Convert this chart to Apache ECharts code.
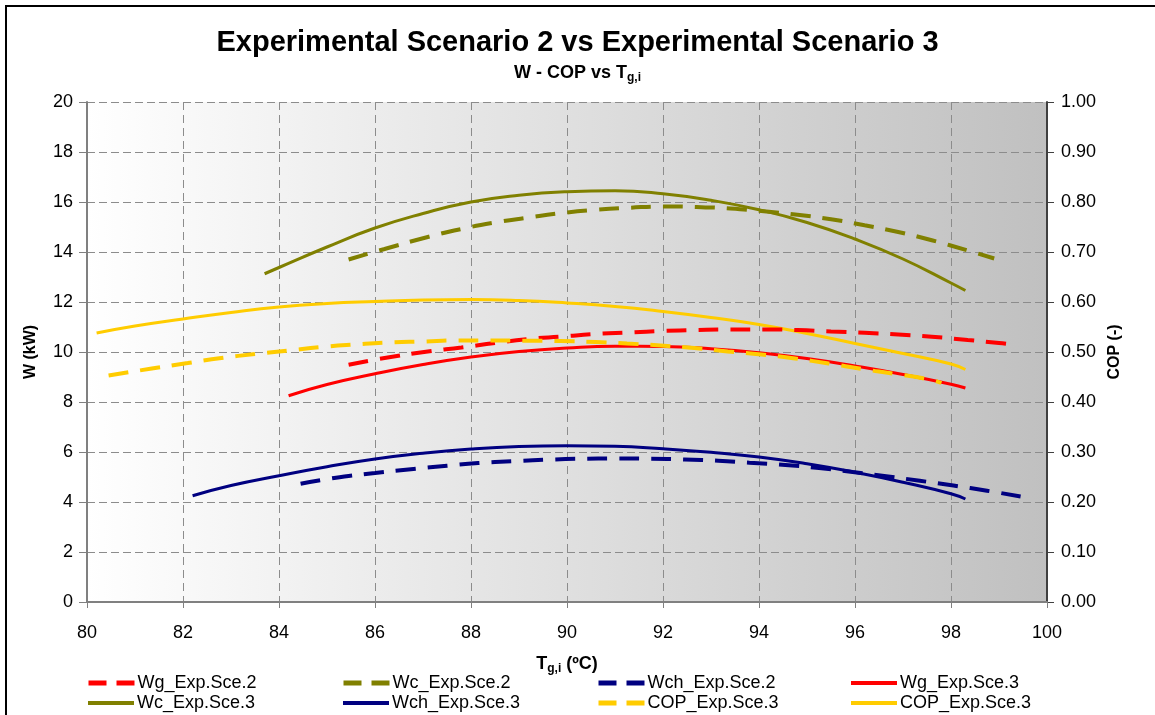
<!DOCTYPE html>
<html><head><meta charset="utf-8">
<script src="https://cdn.jsdelivr.net/npm/echarts@6/dist/echarts.min.js"></script>
<style>html,body{margin:0;padding:0;background:#fff}#c{width:1155px;height:715px}</style>
</head><body><div id="c"></div>
<script>
// ---- data (x = T_g,i in ºC, W in kW, COP in -) ----
const wgSce2X = [85.45, 86.2, 87.1, 87.8, 88.5, 89.2, 89.9, 90.6, 91.3, 92.0, 92.7, 93.4, 94.1, 94.8, 95.5, 96.2, 96.9, 97.6, 98.35, 99.0, 99.3];
const wgSce2Y = [9.49, 9.76, 10.02, 10.18, 10.36, 10.52, 10.62, 10.72, 10.78, 10.84, 10.88, 10.9, 10.9, 10.88, 10.82, 10.77, 10.7, 10.61, 10.48, 10.36, 10.29];

const wcSce2X = [85.45, 86.2, 87.1, 87.8, 88.5, 89.2, 89.85, 90.6, 91.3, 92.0, 92.7, 93.4, 94.1, 94.8, 95.5, 96.2, 96.9, 97.6, 98.35, 98.9];
const wcSce2Y = [13.70, 14.12, 14.60, 14.92, 15.18, 15.38, 15.55, 15.69, 15.77, 15.82, 15.80, 15.74, 15.63, 15.49, 15.31, 15.07, 14.80, 14.47, 14.06, 13.74];

const wchSce2X = [84.45, 85.15, 86.0, 86.8, 87.5, 88.15, 88.85, 89.55, 90.3, 91.0, 91.75, 92.45, 93.15, 93.8, 94.55, 95.25, 95.95, 96.65, 97.35, 98.05, 98.75, 99.45];
const wchSce2Y = [4.73, 4.96, 5.16, 5.32, 5.45, 5.56, 5.63, 5.69, 5.73, 5.74, 5.73, 5.70, 5.65, 5.57, 5.48, 5.36, 5.20, 5.03, 4.85, 4.66, 4.45, 4.22];

const wgSce3X = [84.2, 85, 86, 87, 88, 89, 90, 91, 92, 93, 94, 95, 96, 97, 98, 98.3];
const wgSce3Y = [8.25, 8.70, 9.13, 9.50, 9.80, 10.02, 10.16, 10.23, 10.22, 10.13, 9.97, 9.74, 9.44, 9.10, 8.71, 8.56];

const wcSce3X = [83.7, 84, 85, 86, 87, 88, 89, 90, 91, 92, 93, 94, 95, 96, 97, 98, 98.3];
const wcSce3Y = [13.13, 13.38, 14.20, 14.96, 15.54, 16.00, 16.27, 16.41, 16.45, 16.33, 16.07, 15.69, 15.18, 14.52, 13.72, 12.76, 12.46];

const wchSce3X = [82.2, 83, 84, 85, 86, 87, 88, 89, 90, 91, 92, 93, 94, 95, 96, 97, 98, 98.3];
const wchSce3Y = [4.25, 4.66, 5.05, 5.41, 5.72, 5.95, 6.12, 6.22, 6.25, 6.23, 6.13, 5.99, 5.80, 5.53, 5.19, 4.79, 4.33, 4.12];

const copDashX = [80.45, 81.35, 82.1, 82.8, 83.5, 84.2, 84.9, 85.6, 86.3, 87.0, 87.7, 88.4, 89.1, 89.85, 90.6, 91.25, 91.95, 92.65, 93.35, 94.05, 94.75, 95.45, 96.15, 96.85, 97.55, 97.8];
const copDashY = [0.453, 0.467, 0.478, 0.488, 0.496, 0.503, 0.510, 0.515, 0.519, 0.521, 0.523, 0.523, 0.5225, 0.522, 0.520, 0.517, 0.513, 0.508, 0.501, 0.495, 0.487, 0.477, 0.466, 0.456, 0.445, 0.438];

const copSolidX = [80.2, 81, 82, 83, 84, 85, 86, 87, 88, 89, 90, 91, 92, 93, 94, 95, 96, 97, 98, 98.3];
const copSolidY = [0.538, 0.552, 0.566, 0.579, 0.590, 0.597, 0.601, 0.604, 0.605, 0.603, 0.598, 0.591, 0.581, 0.569, 0.555, 0.537, 0.517, 0.497, 0.476, 0.465];

const xTickRange = [80, 100, 2];
const wTickRange = [0, 20, 2];
const copTickRange = [0, 1, 0.1];

const legendNames = ['Wg_Exp.Sce.2', 'Wc_Exp.Sce.2', 'Wch_Exp.Sce.2', 'Wg_Exp.Sce.3',
                     'Wc_Exp.Sce.3', 'Wch_Exp.Sce.3', 'COP_Exp.Sce.3', 'COP_Exp.Sce.3'];

// ---- build ----
const zip = (xs, ys) => xs.map((x, i) => [x, ys[i]]);
const FONT = 'Liberation Sans, Arial, sans-serif';
const RED = '#FF0000', OLIVE = '#808000', NAVY = '#000080', GOLD = '#FFCC00';
const DASH = [20, 12];

const defs = [
  { key: 'Wg_Exp.Sce.2', data: zip(wgSce2X, wgSce2Y), color: RED, dash: true, axis: 0 },
  { key: 'Wc_Exp.Sce.2', data: zip(wcSce2X, wcSce2Y), color: OLIVE, dash: true, axis: 0 },
  { key: 'Wch_Exp.Sce.2', data: zip(wchSce2X, wchSce2Y), color: NAVY, dash: true, axis: 0 },
  { key: 'Wg_Exp.Sce.3', data: zip(wgSce3X, wgSce3Y), color: RED, dash: false, axis: 0 },
  { key: 'Wc_Exp.Sce.3', data: zip(wcSce3X, wcSce3Y), color: OLIVE, dash: false, axis: 0 },
  { key: 'Wch_Exp.Sce.3', data: zip(wchSce3X, wchSce3Y), color: NAVY, dash: false, axis: 0 },
  { key: 'COP_Exp.Sce.3#dash', data: zip(copDashX, copDashY), color: GOLD, dash: true, axis: 1 },
  { key: 'COP_Exp.Sce.3#solid', data: zip(copSolidX, copSolidY), color: GOLD, dash: false, axis: 1 }
];

const series = defs.map(d => ({
  name: d.key, type: 'line', yAxisIndex: d.axis, data: d.data, smooth: true,
  symbol: 'none', showSymbol: false, z: d.dash ? 3 : 2,
  color: d.color,
  lineStyle: { color: d.color, width: d.dash ? 4 : 3, type: d.dash ? DASH : 'solid' }
}));

const colX = [86, 341, 596, 849];
const rowY = [674, 694];
const legends = defs.map((d, i) => ({
  data: [d.key], left: colX[i % 4], top: rowY[Math.floor(i / 4)],
  itemWidth: 46, itemHeight: 14, itemGap: 0, padding: 0, selectedMode: false,
  formatter: () => legendNames[i],
  itemStyle: { opacity: 0, borderWidth: 0 },
  lineStyle: { width: d.dash ? 5 : 4, type: d.dash ? [18, 10] : 'solid', color: d.color },
  textStyle: { fontFamily: FONT, fontSize: 18, color: '#000', padding: [0, 0, 0, -2] }
}));

const chart = echarts.init(document.getElementById('c'), null, { renderer: 'canvas' });
chart.setOption({
  animation: false,
  backgroundColor: '#fff',
  title: [
    { text: 'Experimental Scenario 2 vs Experimental Scenario 3', left: 'center', top: 23,
      textStyle: { fontFamily: FONT, fontSize: 29, fontWeight: 'bold', color: '#000' } },
    { text: '{a|W - COP vs T}{s|g,i}', left: 'center', top: 58,
      textStyle: { rich: {
        a: { fontFamily: FONT, fontSize: 18, fontWeight: 'bold', color: '#000' },
        s: { fontFamily: FONT, fontSize: 12, fontWeight: 'bold', color: '#000', padding: [9, 0, 0, 0] } } } }
  ],
  legend: legends,
  graphic: [{ type: 'rect', shape: { x: 6, y: 6, width: 1170, height: 730 }, silent: true,
    style: { fill: 'none', stroke: '#000', lineWidth: 2 }, z: 100 }],
  grid: { left: 87, right: 108, top: 102, bottom: 113, show: true, borderWidth: 0,
    backgroundColor: new echarts.graphic.LinearGradient(0, 0, 1, 0, [
      { offset: 0, color: '#ffffff' }, { offset: 1, color: '#c0c0c0' }]) },
  xAxis: {
    type: 'value', min: xTickRange[0], max: xTickRange[1], interval: xTickRange[2],
    name: '{b|T}{s|g,i}{b| (ºC)}', nameLocation: 'middle', nameGap: 52,
    nameTextStyle: { rich: {
      b: { fontFamily: FONT, fontSize: 18, fontWeight: 'bold', color: '#000' },
      s: { fontFamily: FONT, fontSize: 12, fontWeight: 'bold', color: '#000', padding: [9, 0, 0, 0] } } },
    axisLine: { show: true, onZero: false, lineStyle: { color: '#808080', width: 2 } },
    axisTick: { show: true, inside: false, length: 6, lineStyle: { color: '#808080' } },
    axisLabel: { fontFamily: FONT, fontSize: 18, color: '#000', margin: 22 },
    splitLine: { show: true, lineStyle: { color: '#8c8c8c', type: [8, 5], width: 1 } }
  },
  yAxis: [{
    type: 'value', position: 'left', min: wTickRange[0], max: wTickRange[1], interval: wTickRange[2],
    name: 'W (kW)', nameLocation: 'middle', nameGap: 48, nameRotate: 90,
    nameTextStyle: { fontFamily: FONT, fontSize: 16, fontWeight: 'bold', color: '#000' },
    axisLine: { show: true, lineStyle: { color: '#808080', width: 2 } },
    axisTick: { show: true, length: 8, lineStyle: { color: '#808080' } },
    axisLabel: { fontFamily: FONT, fontSize: 18, color: '#000', margin: 14 },
    splitLine: { show: true, lineStyle: { color: '#8c8c8c', type: [8, 4], width: 1 } }
  }, {
    type: 'value', position: 'right', min: copTickRange[0], max: copTickRange[1], interval: copTickRange[2],
    name: 'COP (-)', nameLocation: 'middle', nameGap: 60, nameRotate: 90,
    nameTextStyle: { fontFamily: FONT, fontSize: 16, fontWeight: 'bold', color: '#000' },
    axisLine: { show: true, lineStyle: { color: '#404040', width: 2 } },
    axisTick: { show: true, length: 7, lineStyle: { color: '#404040' } },
    axisLabel: { fontFamily: FONT, fontSize: 18, color: '#000', margin: 14, formatter: v => v.toFixed(2) },
    splitLine: { show: false }
  }],
  series: series
});
</script></body></html>
